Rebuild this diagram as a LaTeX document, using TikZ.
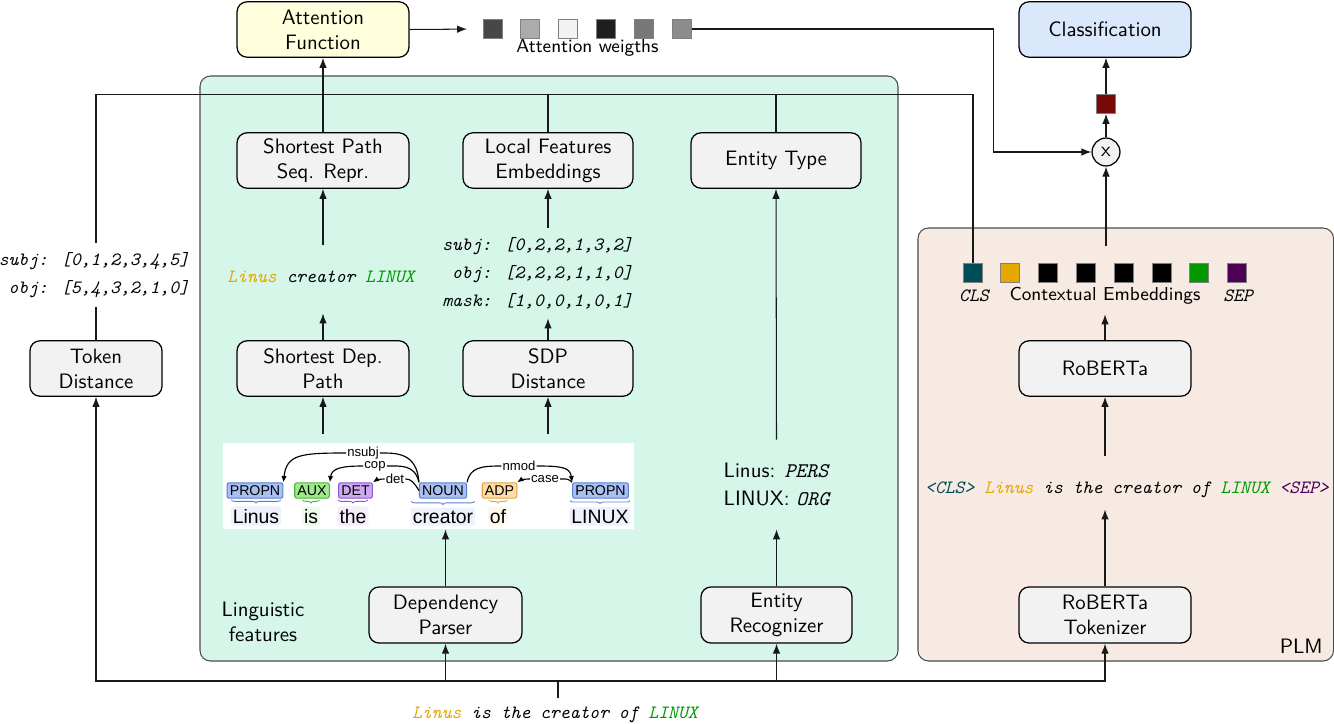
\documentclass[tikz,border=0pt]{standalone}
\usepackage{fontspec}
\newfontfamily\arialf{Liberation Sans}
\usetikzlibrary{arrows.meta,decorations.pathreplacing,calc}
\definecolor{mint}{HTML}{D5F6E9}
\definecolor{peach}{HTML}{F6EAE2}
\definecolor{boxgray}{HTML}{F2F2F2}
\definecolor{afyellow}{HTML}{FFFFDE}
\definecolor{clsblue}{HTML}{DAE8FC}
\definecolor{linusc}{HTML}{E6A800}
\definecolor{linuxc}{HTML}{009900}
\definecolor{clsc}{HTML}{004D57}
\definecolor{sepc}{HTML}{4D0055}
\definecolor{darkred}{HTML}{7A0A0A}
\definecolor{tbluef}{HTML}{A8C0F2}
\definecolor{tblued}{HTML}{5B7FD0}
\definecolor{tgreenf}{HTML}{9DEB8B}
\definecolor{tgreend}{HTML}{4DB33D}
\definecolor{tpurpf}{HTML}{CDA9F2}
\definecolor{tpurpd}{HTML}{8E55D0}
\definecolor{torangef}{HTML}{FFDCA6}
\definecolor{toranged}{HTML}{E3A545}
\definecolor{wblue}{HTML}{EEF2FC}
\definecolor{wgreen}{HTML}{EEFBEB}
\definecolor{wpurp}{HTML}{F5EEFC}
\definecolor{worange}{HTML}{FFF8EC}
\begin{document}
\begin{tikzpicture}[x=0.48pt,y=-0.48pt,
  bx/.style={draw, line width=0.6pt, rounded corners=4.8pt, fill=boxgray, align=center, font=\sffamily, minimum width=82.5pt, minimum height=26.6pt, inner sep=1pt},
  sq/.style={draw=black!50, line width=0.4pt, minimum size=9.1pt, inner sep=0pt},
  arr/.style={line width=0.5pt, draw=black!90, -{Latex[length=4.8pt,width=3.6pt]}},
  ln/.style={line width=0.5pt, draw=black!90},
  tblk/.style={font=\small\ttfamily\itshape, inner sep=0pt},
  deptag/.style 2 args={draw=#1, fill=#2, line width=0.5pt, rounded corners=1pt, inner xsep=1.3pt, inner ysep=0pt, minimum height=7.4pt, font=\arialf\fontsize{6.8}{7}\selectfont},
  wd/.style={font=\arialf\fontsize{9.3}{10}\selectfont, inner xsep=1pt, inner ysep=1.2pt, rounded corners=1.5pt, anchor=base},
  dlab/.style={font=\arialf\fontsize{6.3}{7}\selectfont, fill=white, inner sep=0.4pt},
  darc/.style={line width=0.55pt},
  dtip/.style={line width=0.55pt, -{Latex[length=3pt,width=2.6pt]}},
  brc/.style={decorate, decoration={brace, mirror, amplitude=1.5pt}, line width=0.4pt}
]
\useasboundingbox (0,0) rectangle (1334,723);

% regions
\draw[draw=black!70, line width=0.5pt, fill=mint, rounded corners=5pt] (200,76) rectangle (898,661);
\draw[draw=black!70, line width=0.5pt, fill=peach, rounded corners=5pt] (918,228) rectangle (1333.5,661);

% boxes
\node[bx, fill=afyellow] (att) at (323,29.5) {Attention\\Function};
\node[bx, fill=clsblue] (cls) at (1105,29.5) {Classification};
\node[bx] (spsr) at (323,160.5) {Shortest Path\\Seq. Repr.};
\node[bx, minimum width=81.6pt] (lfe) at (548,160.5) {Local Features\\Embeddings};
\node[bx, minimum width=81.6pt] (et) at (776,160.5) {Entity Type};
\node[bx, minimum width=63.4pt] (td) at (96,368.5) {Token\\Distance};
\node[bx] (sdp) at (323,368.5) {Shortest Dep.\\Path};
\node[bx, minimum width=81.6pt] (sdpd) at (548,368.5) {SDP\\Distance};
\node[bx] (rob) at (1105,368.5) {RoBERTa};
\node[bx, minimum width=73.4pt, minimum height=26.9pt] (dp) at (445.5,615) {Dependency\\Parser};
\node[bx, minimum width=72.5pt, minimum height=26.9pt] (er) at (776.5,615) {Entity\\Recognizer};
\node[bx, minimum height=26.9pt] (tok) at (1105,615) {RoBERTa\\Tokenizer};

% attention weights
\node[sq, fill=black!72] (w1) at (493,29) {};
\node[sq, fill=black!33] (w2) at (530,29) {};
\node[sq, fill=black!5]  (w3) at (568,29) {};
\node[sq, fill=black!88] (w4) at (606,29) {};
\node[sq, fill=black!53] (w5) at (644,29) {};
\node[sq, fill=black!45] (w6) at (682,29) {};
\node[font=\sffamily\small, anchor=base, inner sep=0pt] (awl) at (587.5,52) {Attention weigths};

% multiply and output
\node[circle, draw, line width=0.6pt, fill=boxgray, minimum size=13.4pt, inner sep=0pt, font=\sffamily] (times) at (1106,152) {x};
\node[sq, fill=darkred] (vec) at (1106,104) {};

% contextual embeddings
\node[sq, fill=clsc] (c1) at (973,273) {};
\node[sq, fill=linusc] (c2) at (1010,273) {};
\node[sq, fill=black] (c3) at (1048,273) {};
\node[sq, fill=black] (c4) at (1086,273) {};
\node[sq, fill=black] (c5) at (1124,273) {};
\node[sq, fill=black] (c6) at (1162,273) {};
\node[sq, fill=linuxc] (c7) at (1199,273) {};
\node[sq, fill=sepc] (c8) at (1237,273) {};
\node[tblk, anchor=base] (lcls) at (974,301) {CLS};
\node[tblk, anchor=base] (lsep) at (1238,301) {SEP};
\node[font=\sffamily\small, inner sep=0pt, anchor=base, text height=25.9pt, text depth=6.7pt] (ctx) at (1105,300) {Contextual Embeddings};

% texts
\node[tblk, align=right, minimum height=30.7pt] (tdv) at (94,275) {subj: [0,1,2,3,4,5]\\[2.4pt]obj: [5,4,3,2,1,0]};
\node[tblk, align=right, minimum height=43.2pt] (lfv) at (537.5,273) {subj: [0,2,2,1,3,2]\\[2.4pt]obj: [2,2,2,1,1,0]\\[2.4pt]mask: [1,0,0,1,0,1]};
\node[tblk, anchor=base, text height=17.8pt, text depth=14.9pt] (seqtxt) at (321,282) {\textcolor{linusc}{Linus} creator \textcolor{linuxc}{LINUX}};
\node[font=\sffamily, align=left, inner sep=0pt, minimum height=42.7pt] (etv) at (776.5,484.5) {Linus: {\ttfamily\itshape PERS}\\[1.9pt]LINUX: {\ttfamily\itshape ORG}};
\node[tblk, anchor=base, text height=17.8pt, text depth=7.7pt] (toks) at (1127,493) {\textcolor{clsc}{<CLS>} \textcolor{linusc}{Linus} is the creator of \textcolor{linuxc}{LINUX} \textcolor{sepc}{<SEP>}};
\node[tblk, anchor=base, text height=9.6pt, text depth=0pt] (inp) at (555,718) {\textcolor{linusc}{Linus} is the creator of \textcolor{linuxc}{LINUX}};
\node[font=\sffamily, align=center] (lf) at (263,622) {Linguistic\\features};
\node[font=\sffamily, anchor=base east, inner sep=0pt] (plm) at (1323,653) {PLM};

% dependency parse image
\node[fill=white, minimum width=197.3pt, minimum height=41.3pt, inner sep=0pt] (dep) at (428.5,486) {};
\node[deptag={tblued}{tbluef}] (tg1) at (255,490.5) {PROPN};
\node[deptag={tgreend}{tgreenf}] (tg2) at (312,490.5) {AUX};
\node[deptag={tpurpd}{tpurpf}] (tg3) at (355.5,490.5) {DET};
\node[deptag={tblued}{tbluef}] (tg4) at (443,490.5) {NOUN};
\node[deptag={toranged}{torangef}] (tg5) at (499.5,490.5) {ADP};
\node[deptag={tblued}{tbluef}] (tg6) at (600.5,490.5) {PROPN};
\node[wd, fill=wblue] (wd1) at (256,523) {Linus};
\node[wd, fill=wgreen] (wd2) at (311,523) {is};
\node[wd, fill=wpurp] (wd3) at (353,523) {the};
\node[wd, fill=wblue] (wd4) at (443,523) {creator};
\node[wd, fill=worange] (wd5) at (498,523) {of};
\node[wd, fill=wblue] (wd6) at (600,523) {LINUX};
\draw[brc, draw=tblued] ([xshift=0.5pt,yshift=3pt]wd1.north west) -- ([xshift=-0.5pt,yshift=3pt]wd1.north east);
\draw[brc, draw=tgreend] ([xshift=0.5pt,yshift=3pt]wd2.north west) -- ([xshift=-0.5pt,yshift=3pt]wd2.north east);
\draw[brc, draw=tpurpd] ([xshift=0.5pt,yshift=3pt]wd3.north west) -- ([xshift=-0.5pt,yshift=3pt]wd3.north east);
\draw[brc, draw=tblued] ([xshift=0.5pt,yshift=3pt]wd4.north west) -- ([xshift=-0.5pt,yshift=3pt]wd4.north east);
\draw[brc, draw=toranged] ([xshift=0.5pt,yshift=3pt]wd5.north west) -- ([xshift=-0.5pt,yshift=3pt]wd5.north east);
\draw[brc, draw=tblued] ([xshift=0.5pt,yshift=3pt]wd6.north west) -- ([xshift=-0.5pt,yshift=3pt]wd6.north east);
\node[dlab] (lnsubj) at (363,453) {nsubj};
\node[dlab] (lcop) at (375,466) {cop};
\node[dlab] (ldet) at (395,479) {det};
\node[dlab] (lnmod) at (519,466) {nmod};
\node[dlab] (lcase) at (545,479) {case};
\draw[darc] (tg4.north west) .. controls +(-2,-30) and +(16,0) .. (lnsubj.east);
\draw[dtip] (lnsubj.west) .. controls +(-45,0) and +(3,-28) .. (tg1.north east);
\draw[darc] (tg4.north west) .. controls +(-4,-18) and +(14,0) .. (lcop.east);
\draw[dtip] (lcop.west) .. controls +(-22,0) and +(2,-14) .. (tg2.north east);
\draw[darc] (tg4.west) .. controls +(-5,-8) and +(6,0) .. (ldet.east);
\draw[dtip] (ldet.west) .. controls +(-5,0) and +(3,-2) .. (tg3.north east);
\draw[darc] (tg4.north east) .. controls +(3,-15) and +(-20,0) .. (lnmod.west);
\draw[dtip] (lnmod.east) .. controls +(25,0) and +(-2,-15) .. (tg6.north west);
\draw[darc] (tg6.north west) .. controls +(-4,-4) and +(6,0) .. (lcase.east);
\draw[dtip] (lcase.west) .. controls +(-7,0) and +(3,-2) .. (tg5.north east);

% connectors
\draw[arr, shorten >=7.7pt] (att.east) -- (w1.west);
\draw[arr] (w6.east) -- ++(302,0) |- (times.west);
\draw[arr] (times.north) -- (vec.south);
\draw[arr] (vec.north) -- (vec.north |- cls.south);
\draw[arr] (ctx.north -| times.south) -- (times.south);
\draw[arr] (rob.north) -- (rob.north |- ctx.south);
\draw[arr] (rob.south |- toks.north) -- (rob.south);
\draw[arr] (tok.north) -- (tok.north |- toks.south);
\draw[arr] (spsr.north) -- (att.south);
\draw[arr] (spsr.south |- seqtxt.north) -- (spsr.south);
\draw[arr] (sdp.north) -- (sdp.north |- seqtxt.south);
\draw[arr, shorten <=4.3pt] (dep.north -| sdp.south) -- (sdp.south);
\draw[arr, shorten <=4.3pt] (dep.north -| sdpd.south) -- (sdpd.south);
\draw[arr] (dp.north) -- (dp.north |- dep.south);
\draw[arr] (sdpd.north) -- (sdpd.north |- lfv.south);
\draw[arr] (lfe.south |- lfv.north) -- (lfe.south);
\draw[arr] (er.north) -- (etv.south);
\draw[arr] (etv.north) -- (et.south);
\draw[ln] (td.north) -- (td.north |- tdv.south);
\draw[ln] (td.north |- tdv.north) -- ++(0,-148) -| (c1.north);
\draw[ln] (lfe.north) -- ++(0,-38);
\draw[ln] (et.north) -- ++(0,-38);
\coordinate (bus) at (558,681);
\draw[ln] (inp.north -| bus) -- (bus);
\draw[arr] (bus) -| (td.south);
\draw[arr] (bus) -| (dp.south);
\draw[arr] (bus) -| (er.south);
\draw[arr] (bus) -| (tok.south);
\end{tikzpicture}
\end{document}
